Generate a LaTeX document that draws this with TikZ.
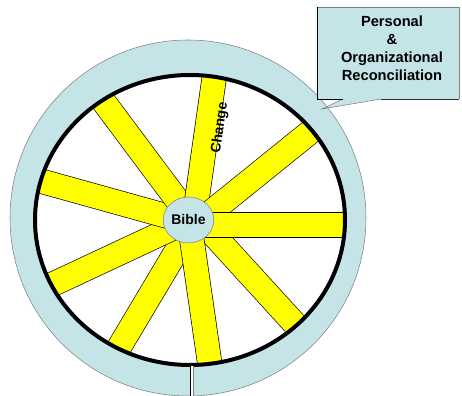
\documentclass[tikz,border=0pt]{standalone}
\usepackage{fontspec}
\setmainfont{Liberation Sans}
\usetikzlibrary{shapes.geometric}
\definecolor{ringblue}{RGB}{196,228,232}
\definecolor{spokeyellow}{RGB}{255,255,0}
\tikzset{
  spoke/.style={draw=black, line width=0.5pt, double=spokeyellow, double distance=17.8pt},
  hub/.style={ellipse, fill=ringblue, draw=gray, line width=0.4pt, minimum width=38pt,
    minimum height=34.5pt, inner sep=0pt, font=\fontsize{10.5}{12}\selectfont\bfseries},
  note/.style={align=center, font=\fontsize{11}{13.5}\selectfont\bfseries},
}
\begin{document}
\begin{tikzpicture}[x=0.75pt, y=0.75pt]
  \useasboundingbox (0,0) rectangle (462,396);
  \def\R{178} \def\rx{155} \def\ry{145}
  % rim
  \fill[ringblue] (188,178) circle (\R);
  \draw[gray, line width=0.4pt] (188,178) circle (\R);
  \fill[white] (190,176) ellipse ({\rx} and {\ry});
  % spokes (inner point -- outer point, cut at the rim)
  \begin{scope}
    \clip (190,176) ellipse ({\rx} and {\ry});
    \draw[spoke] (195,176) -- (105,25);
    \draw[spoke] (188,175) -- (33,102.5);
    \draw[spoke] (188,174) -- (19,221);
    \draw[spoke] (192,176) -- (88.5,314.5);
    \draw[spoke] (194,176) -- (218,345);
    \draw[spoke] (200,175) -- (330,280);
    \draw[spoke] (200,176) -- (315,50);
    \draw[spoke] (189,176) -- (214,3);
    \draw[spoke, double distance=18.5pt] (200,171) -- (366,171);
  \end{scope}
  \draw[black, line width=3pt] (190,176) ellipse ({\rx} and {\ry});
  % valve
  \fill[white] (190,0) rectangle (193,30);
  \draw[black, line width=0.6pt] (190,0) -- (190,30);
  \draw[gray, line width=0.6pt] (193,0) -- (193,30);
  % hub and spoke label
  \node[hub] (bible) at (188.5,176) {Bible};
  \node[font=\fontsize{10.5}{12}\selectfont\bfseries, rotate=82] (change) at (220,268) {Change};
  % callout
  \fill[ringblue] (317,297) -- (317,389) -- (459,389) -- (459,297) -- (381,297)
    -- (322,287) -- (343,297) -- cycle;
  \begin{scope}
    \clip (381,297) -- (322,287) -- (343,297) -- cycle;
    \draw[gray, line width=0.4pt] (188,178) circle (\R);
  \end{scope}
  \draw[gray, line width=0.5pt] (317,389) -- (459,389) -- (459,297);
  \draw[gray, line width=0.4pt] (381,297) -- (322,287) -- (343,297);
  \draw[black, line width=0.7pt] (343,297) -- (317,297) -- (317,389);
  \draw[black!80, line width=0.7pt] (381,297) -- (459,297);
  \node[note] (callout) at (392,348) {Personal\\\&\\Organizational\\Reconciliation};
\end{tikzpicture}
\end{document}
